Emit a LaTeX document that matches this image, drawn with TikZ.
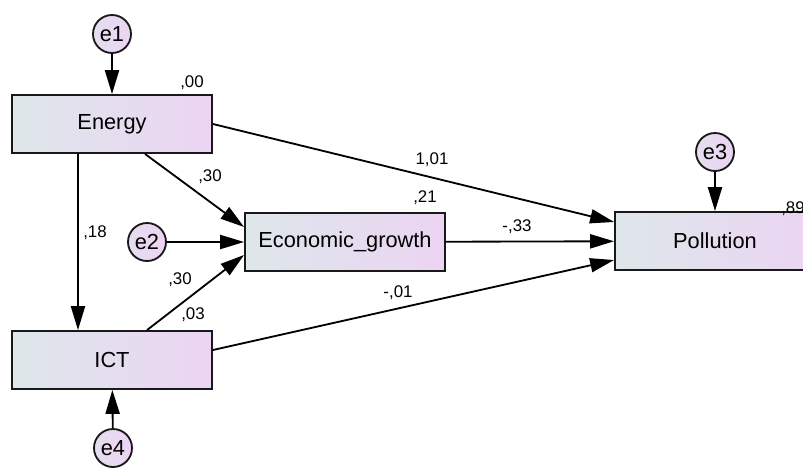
\documentclass[tikz,border=0pt]{standalone}
\usepackage{fontspec}
\setmainfont{Liberation Sans}
\usetikzlibrary{arrows.meta}
\definecolor{boxleft}{RGB}{222,231,234}
\definecolor{boxright}{RGB}{236,212,243}
\begin{document}
\begin{tikzpicture}[x=0.025cm, y=-0.025cm,
    var/.style={draw=black!90, line width=1.3pt, left color=boxleft, right color=boxright,
      minimum width=5cm, minimum height=1.45cm, font=\fontsize{15.5}{18}\selectfont},
    err/.style={circle, draw=black!90, line width=1.3pt, left color=boxleft!50!boxright,
      right color=boxright, minimum size=0.95cm, inner sep=0pt, font=\fontsize{15.5}{18}\selectfont},
    arr/.style={line width=1.3pt, -{Triangle[length=17pt, width=10pt]}},
    est/.style={font=\fontsize{12}{14}\selectfont}]
    \useasboundingbox (0,0) rectangle (803,468);
    \clip (0,0) rectangle (803,468);
    % observed variables
    \node[var] (energy) at (112,124) {Energy};
    \node[var] (ict) at (112,360) {ICT};
    \node[var] (growth) at (345,242) {Economic\_growth};
    \node[var] (poll) at (715,241) {Pollution};
    % error terms
    \node[err] (e1) at (112,34) {e1};
    \node[err] (e2) at (147,242) {e2};
    \node[err] (e3) at (715,152) {e3};
    \node[err] (e4) at (113,448) {e4};
    \draw[arr] (e1) -- (energy);
    \draw[arr] (e2) -- (growth);
    \draw[arr] (e3) -- (poll);
    \draw[arr] (e4) -- (ict);
    % paths
    \draw[arr] (energy.east) -- ([yshift=0.475cm]poll.west);
    \draw[arr] (growth) -- (poll);
    \draw[arr] ([yshift=0.25cm]ict.east) -- ([yshift=-0.475cm]poll.west);
    \draw[arr] ([xshift=0.825cm]energy.south) -- ([yshift=0.375cm]growth.west);
    \draw[arr] ([xshift=0.875cm]ict.north) -- ([yshift=-0.325cm]growth.west);
    \draw[arr] ([xshift=-0.85cm]energy.south) -- ([xshift=-0.85cm]ict.north);
    % estimates
    \node[est] (r1) at (192,83) {,00};
    \node[est] (r2) at (425,198) {,21};
    \node[est] (r3) at (793,209) {,89};
    \node[est] (w1) at (432,160) {1,01};
    \node[est] (w2) at (517,227) {-,33};
    \node[est] (w3) at (398,293) {-,01};
    \node[est] (w4) at (210,177) {,30};
    \node[est] (w5) at (180,280) {,30};
    \node[est] (w6) at (193,315) {,03};
    \node[est] (w7) at (95,233) {,18};
\end{tikzpicture}
\end{document}
